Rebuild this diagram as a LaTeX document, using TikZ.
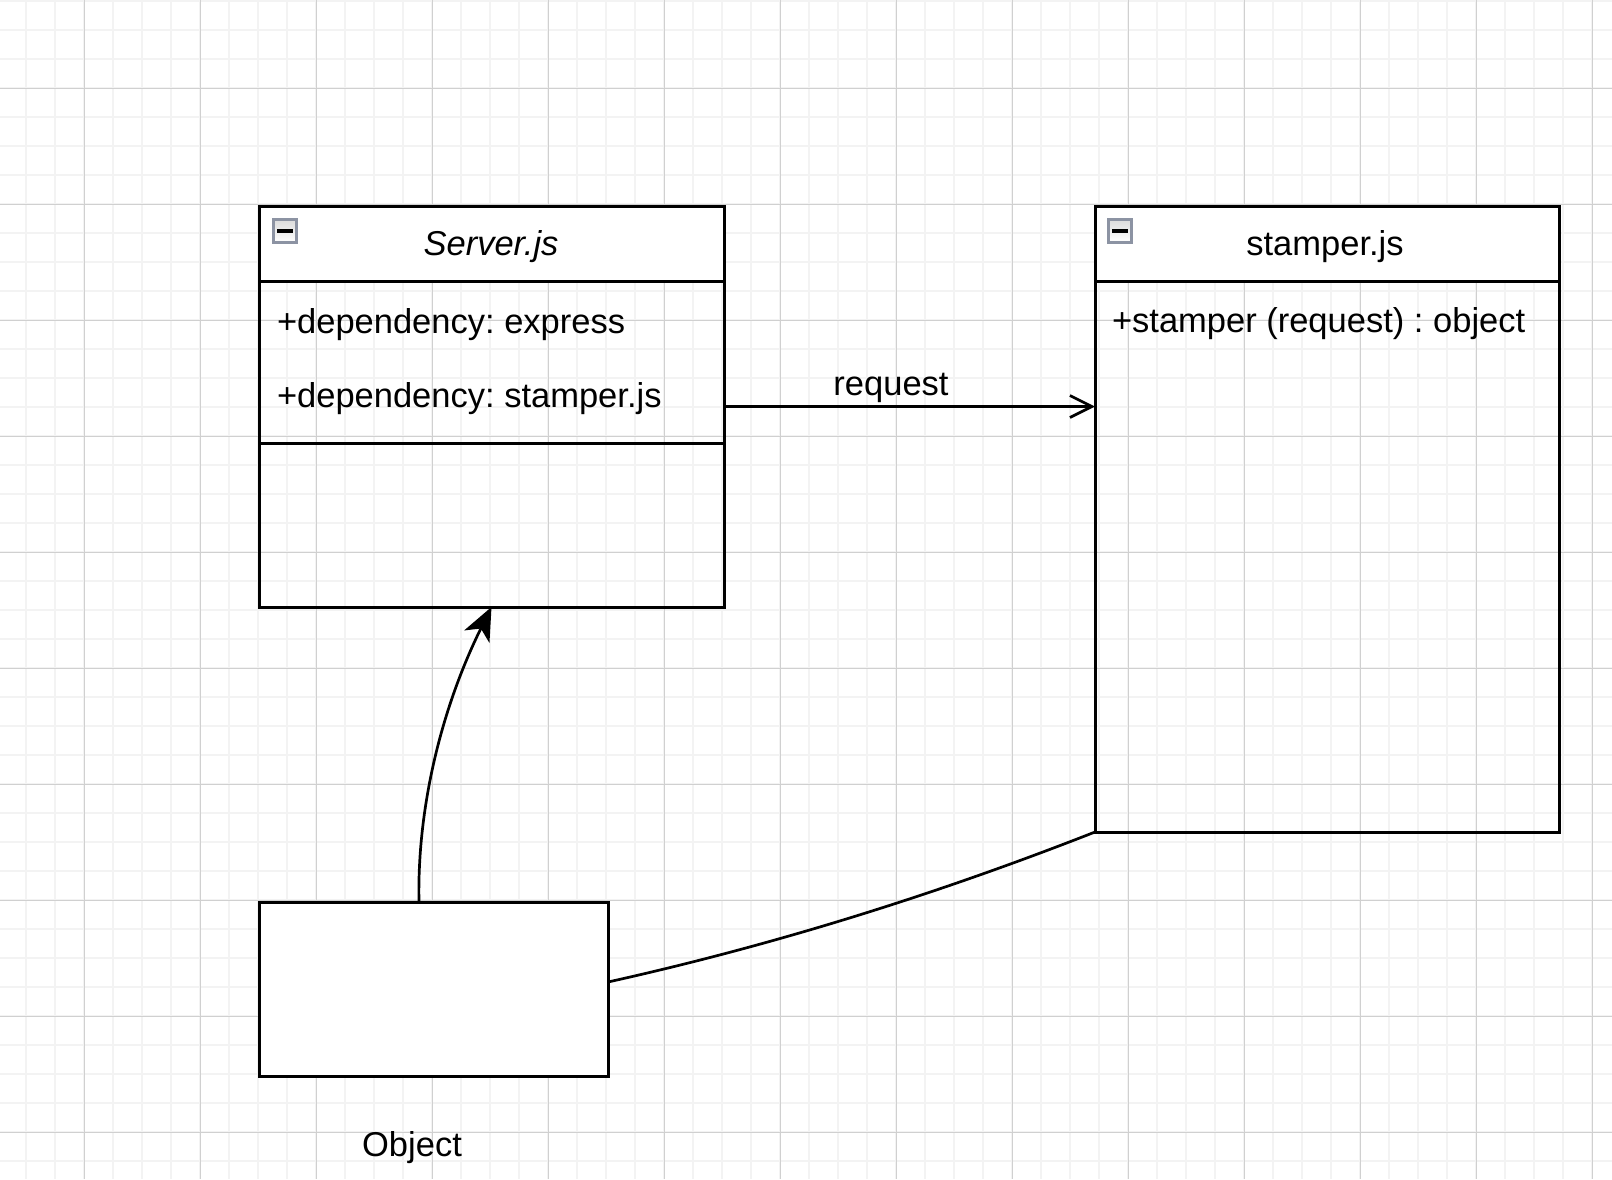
\documentclass[tikz,border=0pt]{standalone}
\usepackage{fontspec}
\setmainfont{Liberation Sans}
\frenchspacing
\usetikzlibrary{arrows.meta,calc}
\definecolor{gridminor}{RGB}{243,243,243}
\definecolor{gridmajor}{RGB}{208,208,208}
\definecolor{iconborder}{RGB}{140,147,163}
\tikzset{
  umlbox/.style={draw=black,line width=3pt,inner sep=0pt,outer sep=0pt,anchor=north west},
  umlhead/.style={umlbox,fill=white},
  umltext/.style={inner sep=0pt,outer sep=0pt,font=\fontsize{34.5}{40}\selectfont},
  iconbox/.style={draw=iconborder,line width=3pt,minimum width=23pt,minimum height=23pt,inner sep=0pt,outer sep=0pt,top color=gray!28,bottom color=white},
  iconbar/.style={line width=4pt,black},
  conn/.style={line width=2.7pt,black},
}
\begin{document}
\begin{tikzpicture}[x=1pt,y=-1pt]
\useasboundingbox (0,0) rectangle (1612,1179);
\fill[white] (0,0) rectangle (1612,1179);
% grid
\foreach \x in {26,55,...,1600} \draw[gridminor,line width=1.7pt] (\x,0) -- (\x,1179);
\foreach \y in {1,30,...,1179} \draw[gridminor,line width=1.7pt] (0,\y) -- (1612,\y);
\foreach \x in {84,200,...,1600} \draw[gridmajor,line width=1pt] (\x,0) -- (\x,1179);
\foreach \y in {88,204,...,1179} \draw[gridmajor,line width=1pt] (0,\y) -- (1612,\y);

% Server.js class
\node[umlbox,minimum width=465pt,minimum height=401pt] (server) at (259,206) {};
\node[umlhead,minimum width=465pt,minimum height=75pt] (serverhead) at (259,206) {};
\draw[line width=3pt] (259,443) coordinate (sdivL) -- (724,443) coordinate (sdivR);
\node[iconbox] (servericon) at (285,231) {};
\draw[iconbar] ($(servericon.center)+(-8,0)$) -- ($(servericon.center)+(8,0)$);
\node[umltext,anchor=base] (servertitle) at (491,255) {\itshape Server.js};
\node[umltext,anchor=base west] (attr1) at (277,333) {+dependency: express};
\node[umltext,anchor=base west] (attr2) at (277,407) {+dependency: stamper.js};

% stamper.js class
\node[umlbox,minimum width=464pt,minimum height=626pt] (stamper) at (1095,206) {};
\node[umlhead,minimum width=464pt,minimum height=75pt] (stamperhead) at (1095,206) {};
\node[iconbox] (stampericon) at (1120,231) {};
\draw[iconbar] ($(stampericon.center)+(-8,0)$) -- ($(stampericon.center)+(8,0)$);
\node[umltext,anchor=base] (stampertitle) at (1325,255) {stamper.js};
\node[umltext,anchor=base west] (attr3) at (1112,332) {+stamper (request) : object};

% Object box
\node[umlbox,fill=white,minimum width=349pt,minimum height=174pt] (object) at (259,902) {};
\node[umltext,anchor=base] (objectlabel) at (412,1156) {Object};

% connectors
\draw[conn,-{Straight Barb[length=22pt,width=22pt,line width=2.7pt]}] (server.east) -- (server.east -| stamper.west);
\node[umltext,anchor=base] (reqlabel) at (891,395) {request};

\coordinate (objtop) at ($(object.north west)+(160,0)$);
\draw[conn,-{Stealth[length=33pt,width=28pt,inset=9pt]}] (objtop) .. controls +(-2,-92) and +(-51,103) .. (server.south);

\coordinate (objright) at ($(object.east)+(0,-7)$);
\draw[conn] (objright) .. controls +(162,-36) and +(-163,64) .. (stamper.south west);
\end{tikzpicture}
\end{document}
